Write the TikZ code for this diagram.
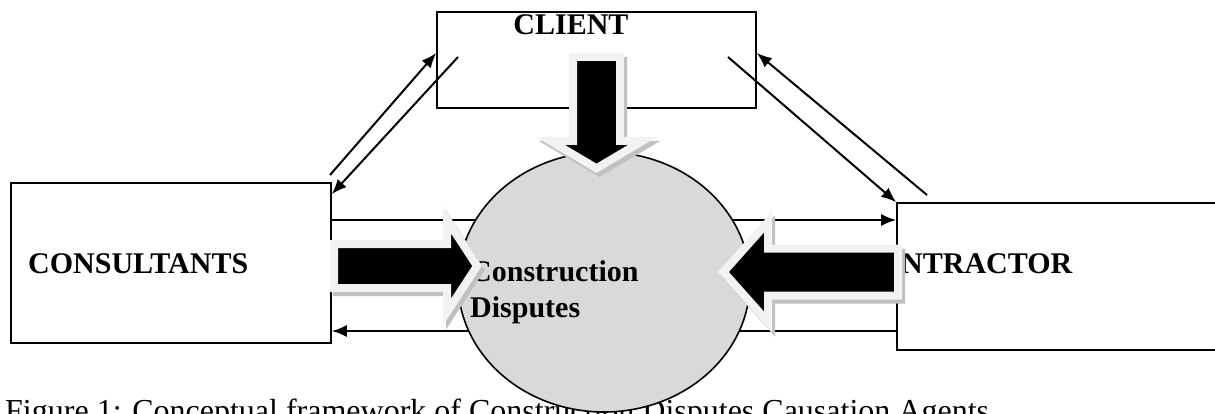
\documentclass[tikz,border=0pt]{standalone}
\usepackage{fontspec}
\setmainfont{Liberation Serif}
\usetikzlibrary{arrows.meta,shapes.geometric}
\definecolor{ellfill}{RGB}{217,217,217}
\definecolor{arrborder}{RGB}{242,242,242}
\definecolor{arrshadow}{RGB}{192,192,192}
% x y angle headbase shafthalf winghalf tip
\newcommand\blockarrow[7]{%
  \begin{scope}[shift={(#1+3,#2+4)},rotate=#3]
    \path[bashadow] (0,#5) -- (#4,#5) -- (#4,#6) -- (#7,0) -- (#4,-#6) -- (#4,-#5) -- (0,-#5) -- cycle;
  \end{scope}
  \begin{scope}[shift={(#1,#2)},rotate=#3]
    \path[bafront] (0,#5) -- (#4,#5) -- (#4,#6) -- (#7,0) -- (#4,-#6) -- (#4,-#5) -- (0,-#5) -- cycle;
  \end{scope}}
\begin{document}
\begin{tikzpicture}[x=1pt,y=-1pt,
  box/.style={draw, line width=1.6pt, inner sep=0pt},
  boldlbl/.style={inner sep=0pt, font=\fontsize{30pt}{36pt}\selectfont\bfseries},
  caplbl/.style={inner sep=0pt, font=\fontsize{32pt}{38pt}\selectfont},
  conn/.style={line width=2pt, -{Latex[length=15pt,width=12pt]}},
  ell/.style={ellipse, draw, line width=1.6pt, fill=ellfill, inner sep=0pt},
  bafront/.style={draw=arrborder, fill=black, line width=8pt, line join=miter, miter limit=10},
  bashadow/.style={draw=arrshadow, fill=arrshadow, line width=8pt, line join=miter, miter limit=10}]
\useasboundingbox (0,0) rectangle (1215,414);
\clip (0,0) rectangle (1215,414);
\fill[white] (0,0) rectangle (1215,414);

% caption
\node[caplbl, anchor=base west] (caption) at (5,421) {Figure 1: Conceptual framework of Construction Disputes Causation Agents};

% boxes
\node[box, minimum width=319pt, minimum height=96pt] (client) at (596.5,60) {};
\node[box, minimum width=320pt, minimum height=160pt] (cons) at (171,263) {};
\node[box, minimum width=340pt, minimum height=147pt] (contr) at (1067,276.5) {};
\node[boldlbl, anchor=base] (clientlbl) at (571,35) {CLIENT};
\node[boldlbl, anchor=base west] (conslbl) at (28,273) {CONSULTANTS};
\node[boldlbl, anchor=base west] (contrlbl) at (856,273) {CONTRACTOR};

% thin connectors
\coordinate (s1) at (330,175);
\coordinate (s2) at (458,57);
\coordinate (s3) at (927,195);
\coordinate (s4) at (728,57);
\draw[conn] (s1) -- ([yshift=7pt]client.west);
\draw[conn] (s2) -- ([yshift=-12pt]cons.north east);
\draw[conn] (s3) -- ([yshift=7pt]client.east);
\draw[conn] (s4) -- (contr.north west);
\draw[conn] ([yshift=43pt]cons.east) -- ([yshift=56.5pt]contr.west);
\draw[conn] ([yshift=-54.5pt]contr.west) -- ([yshift=-68pt]cons.east);

% central ellipse
\node[ell, minimum width=292pt, minimum height=260pt] (disp) at (604,282) {};
\node[boldlbl, anchor=base west] (d1) at (470,281) {Construction};
\node[boldlbl, anchor=base west] (d2) at (470,317) {Disputes};

% block arrows
\blockarrow{334}{266}{0}{113}{22}{46}{143}
\blockarrow{898}{272}{180}{130}{23.5}{50}{174.5}
\blockarrow{596.5}{57}{-90}{84}{23.5}{46}{111.3}
\end{tikzpicture}
\end{document}
